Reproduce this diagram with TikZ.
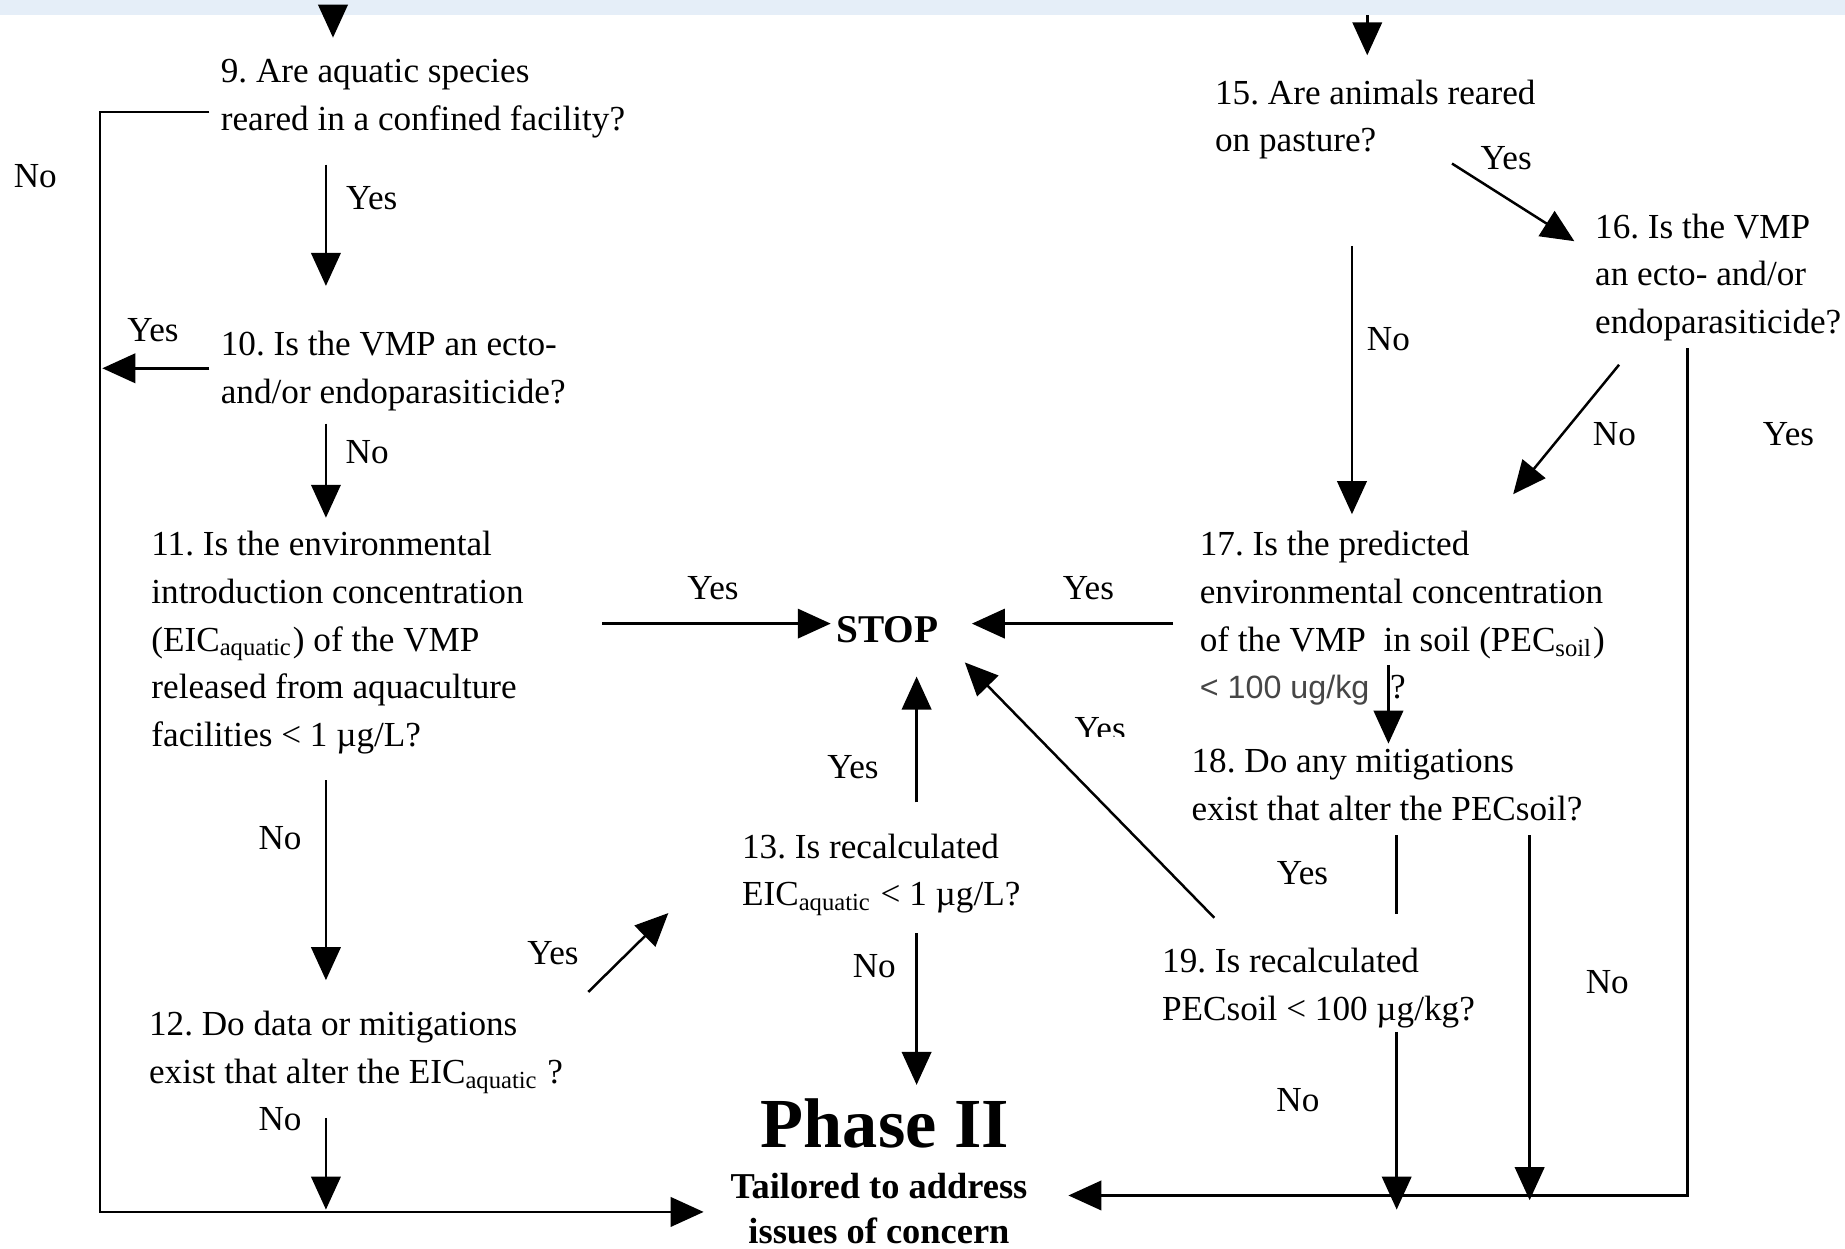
\documentclass[tikz,border=0pt]{standalone}
\usepackage{fontspec}
\setmainfont{Liberation Serif}
\newfontfamily\sansfont{Liberation Sans}
\usepackage{tikz}
\usetikzlibrary{arrows.meta}
\definecolor{band}{RGB}{229, 238, 248}
\definecolor{ink}{RGB}{70, 70, 70}
\frenchspacing

\tikzset{
  question/.style={anchor=north west, inner sep=0, align=left, font=\fontsize{8.5}{11.5}\selectfont},
  answer/.style={inner sep=0, font=\fontsize{8.5}{11.5}\selectfont},
  flow/.style={->, line width=0.6pt},
  wire/.style={line width=0.6pt}
}

\begin{document}
\begin{tikzpicture}[x=0.01cm, y=-0.01cm, >={Triangle[length=2.8mm, width=2.5mm]}]
  \useasboundingbox (0, 0) rectangle (1568, 1061.5);
  \fill[band] (0, 0) rectangle (1568, 13);

  % questions
  \node[question] (q9) at (187, 50) { 9. Are aquatic species\\reared in a confined facility? };
  \node[question] (q10) at (187, 281) { 10. Is the VMP an ecto-\\and/or endoparasiticide? };
  \node[question] (q11) at (128, 451) { 11. Is the environmental\\introduction concentration\\(EIC\textsubscript{aquatic}) of the VMP\\released from aquaculture\\facilities < 1 µg/L? };
  \node[question] (q12) at (126, 859) { 12. Do data or mitigations\\exist that alter the EIC\textsubscript{aquatic} ? };
  \node[question] (q13) at (630, 708) { 13. Is recalculated\\EIC\textsubscript{aquatic} < 1 µg/L? };
  \node[question] (q15) at (1032, 67) { 15. Are animals reared\\on pasture? };
  \node[question] (q16) at (1355, 181) { 16. Is the VMP\\an ecto- and/or\\endoparasiticide? };
  \node[question] (q17) at (1019, 451) { 17. Is the predicted\\environmental concentration\\of the VMP~ in soil (PEC\textsubscript{soil})\\{\sansfont\fontsize{7.8}{11.5}\selectfont\color{ink}< 100 ug/kg}\hspace{5pt}? };
  \node[question] (q18) at (1012, 636) { 18. Do any mitigations\\exist that alter the PECsoil? };
  \node[question] (q19) at (987, 805) { 19. Is recalculated\\PECsoil < 100 µg/kg? };

  \node[inner sep=0, font=\fontsize{9.5}{11.5}\bfseries] (stop) at (754, 535) { STOP };
  \node[inner sep=0, font=\fontsize{17}{20}\bfseries] (phase) at (752, 955) { Phase II };
  \node[inner sep=0, align=center, font=\fontsize{8.8}{11}\bfseries] (tailor) at (747, 1027) { Tailored to address\\issues of concern };

  % answers
  \node[answer] (n9) at (30, 150) { No };
  \node[answer] (y9) at (316, 168) { Yes };
  \node[answer] (y10) at (130, 281) { Yes };
  \node[answer] (n10) at (312, 384) { No };
  \node[answer] (y11) at (606, 500) { Yes };
  \node[answer] (n11) at (238, 712) { No };
  \node[answer] (y12) at (470, 810) { Yes };
  \node[answer] (n12) at (238, 951) { No };
  \node[answer] (y13) at (725, 652) { Yes };
  \node[answer] (n13) at (743, 821) { No };
  \node[answer] (y15) at (1280, 134) { Yes };
  \node[answer] (n15) at (1180, 288) { No };
  \node[answer] (n16) at (1372, 369) { No };
  \node[answer] (y16) at (1520, 369) { Yes };
  \node[answer] (y17) at (925, 500) { Yes };
  \node[answer] (y18) at (1107, 742) { Yes };
  \node[answer] (n18) at (1366, 835) { No };
  \node[answer] (n19) at (1103, 935) { No };
  \begin{scope}
    \clip (880, 590) rectangle (990, 626);
    \node[answer] (y19) at (935, 620) { Yes };
  \end{scope}

  % connector ends
  \foreach \c/\x/\y in {t9s/283/13, t9e/283/32, t15s/1162/13, t15e/1162/47,
      a9s/277/140, a9e/277/243, n9a/178/95, n9b/85/95, n9c/85/1030, n9e/598/1030,
      y10s/178/313, y10e/87/313, n10s/277/360, n10e/277/440,
      y11s/512/530, y11e/706/530, n11s/277/663, n11e/277/833,
      n12s/277/950, n12e/277/1028, y12s/500/843, y12e/568/776,
      y13s/779/682, y13e/779/575, n13s/779/793, n13e/779/922,
      y17s/997/530, y17e/826/530, y19s/1032/780, y19e/820/563,
      y15s/1234/139, y15e/1338/205, n15s/1149/209, n15e/1149/437,
      n16s/1376/310, n16e/1286/420, y16a/1434/296, y16b/1434/1016, y16e/908/1016,
      a17s/1180/565, a17e/1180/632, y18s/1187/710, y18e/1187/777,
      n19s/1187/877, n19e/1187/1028, n18s/1300/710, n18e/1300/1020} {
    \coordinate (\c) at (\x, \y);
  }

  \draw[flow] (t9s) -- (t9e);
  \draw[flow] (t15s) -- (t15e);
  \draw[flow] (a9s) -- (a9e);
  \draw[flow] (n9a) -- (n9b) -- (n9c) -- (n9e);
  \draw[flow] (y10s) -- (y10e);
  \draw[flow] (n10s) -- (n10e);
  \draw[flow] (y11s) -- (y11e);
  \draw[flow] (n11s) -- (n11e);
  \draw[flow] (n12s) -- (n12e);
  \draw[flow] (y12s) -- (y12e);
  \draw[flow] (y13s) -- (y13e);
  \draw[flow] (n13s) -- (n13e);
  \draw[flow] (y17s) -- (y17e);
  \draw[flow] (y19s) -- (y19e);
  \draw[flow] (y15s) -- (y15e);
  \draw[flow] (n15s) -- (n15e);
  \draw[flow] (n16s) -- (n16e);
  \draw[flow] (y16a) -- (y16b) -- (y16e);
  \draw[flow] (a17s) -- (a17e);
  \draw[wire] (y18s) -- (y18e);
  \draw[flow] (n19s) -- (n19e);
  \draw[flow] (n18s) -- (n18e);
\end{tikzpicture}
\end{document}
